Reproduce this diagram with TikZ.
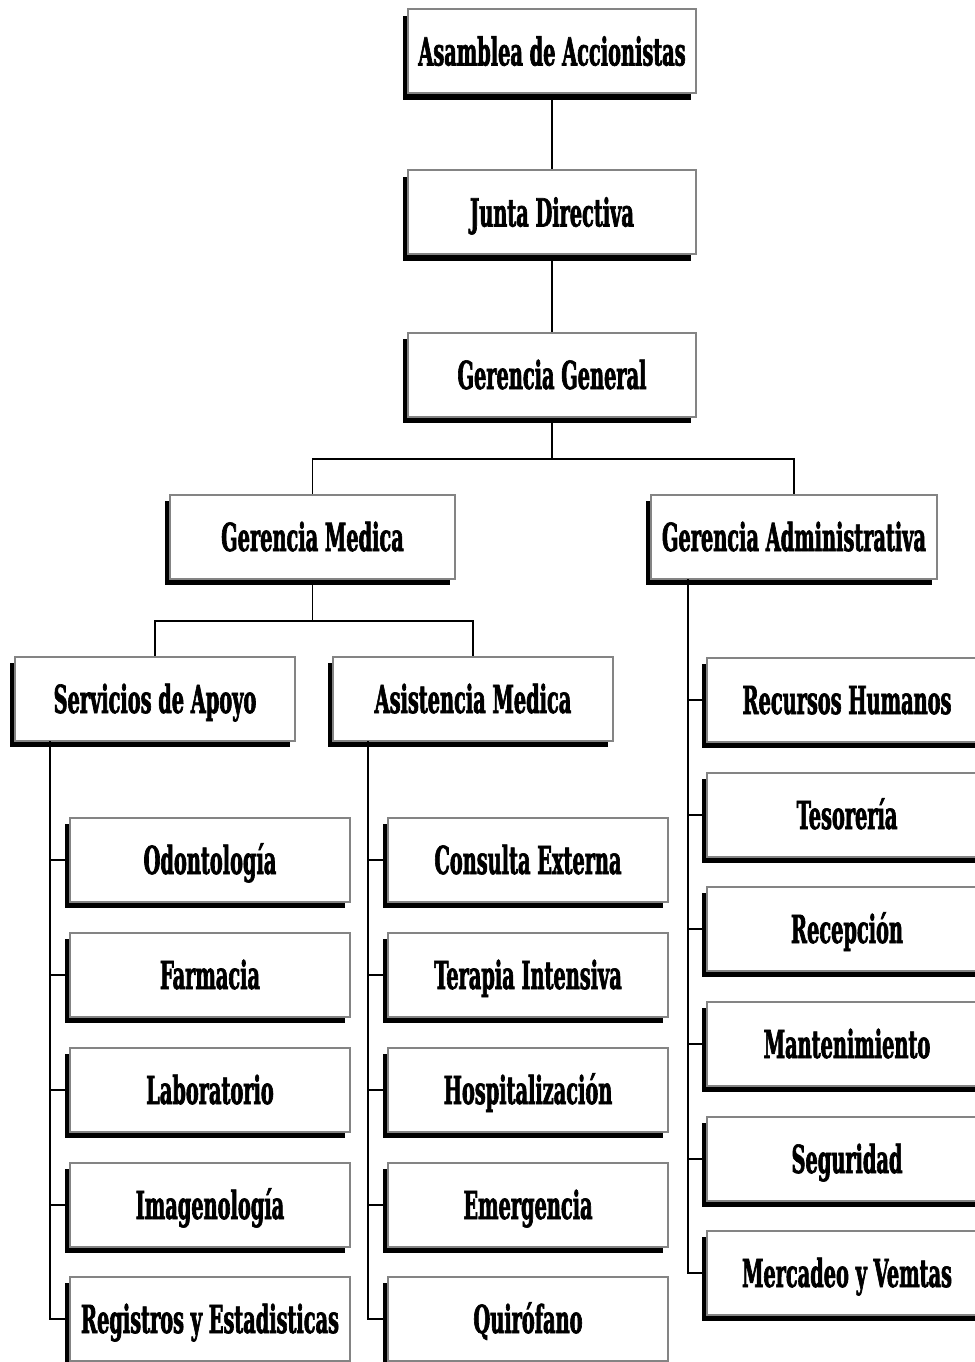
\documentclass[tikz,border=0pt]{standalone}
\usepackage{fontspec}
\newfontfamily\boxfont{DejaVu Serif}[FakeStretch=0.5, BoldFeatures={FakeBold=1.6}]
\usetikzlibrary{shadows}
\definecolor{boxborder}{RGB}{132,132,132}
\begin{document}
\begin{tikzpicture}[x=0.75pt,y=-0.75pt,
  orgbox/.style={draw=boxborder, line width=1.5pt, fill=white,
    minimum width=#1*0.75pt, minimum height=84*0.75pt, inner sep=0pt,
    text height=21pt, text depth=0pt,
    font=\boxfont\bfseries\fontsize{29pt}{30pt}\selectfont,
    drop shadow={shadow xshift=-3.75pt, shadow yshift=-4.75pt, opacity=1, fill=black}},
  orgbox/.default=280,
  link/.style={line width=1.2pt, black}]
\useasboundingbox (0,0) rectangle (974,1362);
% top column
\node[orgbox=288] (asam) at (552,51.5) {Asamblea de Accionistas};
\node[orgbox=288] (junta) at (552,212.5) {Junta Directiva};
\node[orgbox=288] (gg) at (552,375) {Gerencia General};
% second level
\node[orgbox=285] (gm) at (312.5,537) {Gerencia Medica};
\node[orgbox=286] (ga) at (794,537) {Gerencia Administrativa};
% third level
\node[orgbox] (sa) at (155,699) {Servicios de Apoyo};
\node[orgbox] (am) at (473,699) {Asistencia Medica};
% administrative column
\node[orgbox] (rh) at (847,700) {Recursos Humanos};
\node[orgbox] (tes) at (847,815) {Tesorería};
\node[orgbox] (rec) at (847,929) {Recepción};
\node[orgbox] (man) at (847,1044) {Mantenimiento};
\node[orgbox] (seg) at (847,1159) {Seguridad};
\node[orgbox] (mer) at (847,1273) {Mercadeo y Vemtas};
% support column
\node[orgbox] (odo) at (210,860) {Odontología};
\node[orgbox] (far) at (210,975) {Farmacia};
\node[orgbox] (lab) at (210,1090) {Laboratorio};
\node[orgbox] (ima) at (210,1205) {Imagenología};
\node[orgbox] (reg) at (210,1319) {Registros y Estadisticas};
% medical assistance column
\node[orgbox] (con) at (528,860) {Consulta Externa};
\node[orgbox] (ter) at (528,975) {Terapia Intensiva};
\node[orgbox] (hos) at (528,1090) {Hospitalización};
\node[orgbox] (eme) at (528,1205) {Emergencia};
\node[orgbox] (qui) at (528,1319) {Quirófano};
% junctions
\coordinate (j1) at (552,459);
\coordinate (j2) at (312.5,621);
\coordinate (gaL) at (688,579);
\coordinate (saL) at (50,741);
\coordinate (amL) at (368,741);
% connectors
\draw[link] (asam.south) -- (junta.north);
\draw[link] (junta.south) -- (gg.north);
\draw[link] (gg.south) -- (j1);
\draw[link] (gm.north) |- (j1) -| (ga.north);
\draw[link] (gm.south) -- (j2);
\draw[link] (sa.north) |- (j2) -| (am.north);
\foreach \n in {rh,tes,rec,man,seg,mer} \draw[link] (gaL) |- (\n.west);
\foreach \n in {odo,far,lab,ima,reg} \draw[link] (saL) |- (\n.west);
\foreach \n in {con,ter,hos,eme,qui} \draw[link] (amL) |- (\n.west);
\end{tikzpicture}
\end{document}
